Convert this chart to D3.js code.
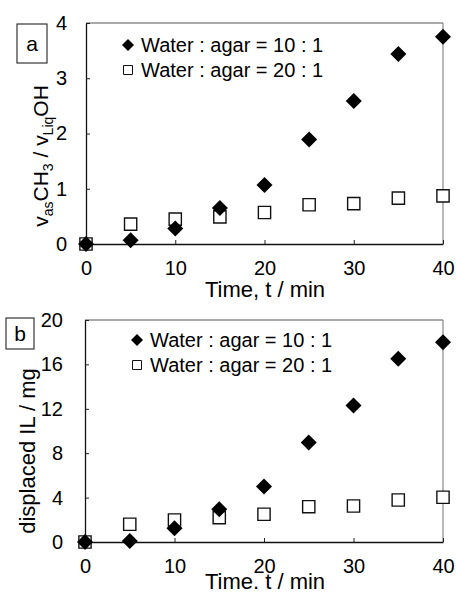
<!DOCTYPE html>
<html>
<head>
<meta charset="utf-8">
<script src="https://cdn.jsdelivr.net/npm/d3@7"></script>
<style>
  body { margin: 0; background: #fff; }
  svg text { font-family: "Liberation Sans", Arial, sans-serif; fill: #000; }
</style>
</head>
<body>
<div id="chart"></div>
<script>
// time points (min)
const times = [0, 5, 10, 15, 20, 25, 30, 35, 40];

// panel a: vasCH3 / vLiqOH
const ratio10 = [0, 0.07, 0.28, 0.65, 1.07, 1.89, 2.59, 3.44, 3.75];
const ratio20 = [0, 0.36, 0.45, 0.49, 0.57, 0.71, 0.73, 0.83, 0.87];

// panel b: displaced IL / mg
const il10 = [0, 0.1, 1.23, 2.95, 5.0, 8.97, 12.3, 16.5, 18.0];
const il20 = [0, 1.6, 1.98, 2.19, 2.5, 3.18, 3.24, 3.78, 4.03];

const xTicks = [0, 10, 20, 30, 40];
const yTicksA = [0, 1, 2, 3, 4];
const yTicksB = [0, 4, 8, 12, 16, 20];
const legendLabels = ["Water : agar = 10 : 1", "Water : agar = 20 : 1"];

const svg = d3.select("#chart")
    .append("svg")
    .attr("width", 456)
    .attr("height", 593);

const diamond = d3.symbol().type(d3.symbolSquare).size(128);
const square = d3.symbol().type(d3.symbolSquare).size(150);

function drawPanel(opts) {

    const x = d3.scaleLinear().domain([0, 40]).range([opts.left, 443]);
    const y = d3.scaleLinear().domain(opts.yDomain).range([opts.bottom, opts.top]);

    const g = svg.append("g");

    // frame (top / right lighter like the scan)
    g.append("line")
        .attr("x1", x(0)).attr("x2", x(40))
        .attr("y1", y.range()[1]).attr("y2", y.range()[1])
        .attr("stroke", "#555").attr("stroke-width", 1.2);
    g.append("line")
        .attr("x1", x(40)).attr("x2", x(40))
        .attr("y1", y.range()[1]).attr("y2", y.range()[0])
        .attr("stroke", "#888").attr("stroke-width", 1.2);

    const xAxis = d3.axisBottom(x).tickValues(xTicks).tickSizeInner(-4).tickSizeOuter(0)
        .tickFormat(d3.format("d"));
    const yAxis = d3.axisLeft(y).tickValues(opts.yTicks).tickSizeInner(-4).tickSizeOuter(0)
        .tickPadding(opts.yPad).tickFormat(d3.format("d"));

    const gx = g.append("g")
        .attr("transform", `translate(0, ${opts.bottom})`)
        .call(xAxis);
    gx.selectAll("text").attr("font-size", 20).attr("dy", "0.71em").attr("y", 17);

    const gy = g.append("g")
        .attr("transform", `translate(${opts.left}, 0)`)
        .call(yAxis);
    gy.selectAll("text").attr("font-size", 20);

    g.selectAll(".domain").attr("stroke", "#111").attr("stroke-width", 1.3);
    g.selectAll(".tick line").attr("stroke", "#222");

    // series: squares under diamonds
    g.selectAll(".sq")
        .data(times.map((t, i) => [t, opts.s20[i]]))
        .enter()
        .append("path")
        .attr("class", "sq")
        .attr("d", square)
        .attr("transform", d => `translate(${x(d[0])}, ${y(d[1])})`)
        .attr("fill", "#fff")
        .attr("stroke", "#111")
        .attr("stroke-width", 1.4);

    g.selectAll(".dm")
        .data(times.map((t, i) => [t, opts.s10[i]]))
        .enter()
        .append("path")
        .attr("class", "dm")
        .attr("d", diamond)
        .attr("transform", d => `translate(${x(d[0])}, ${y(d[1])}) rotate(45)`)
        .attr("fill", "#000");

    // legend
    const lg = g.append("g");
    lg.append("path")
        .attr("d", d3.symbol().type(d3.symbolSquare).size(72))
        .attr("transform", `translate(${opts.legX}, ${opts.legY}) rotate(45)`)
        .attr("fill", "#000");
    lg.append("path")
        .attr("d", d3.symbol().type(d3.symbolSquare).size(81))
        .attr("transform", `translate(${opts.legX}, ${opts.legY + 25})`)
        .attr("fill", "#fff")
        .attr("stroke", "#111")
        .attr("stroke-width", 1);
    lg.selectAll(".lt")
        .data(legendLabels)
        .enter()
        .append("text")
        .attr("x", opts.legX + 13)
        .attr("y", (d, i) => opts.legY + 7 + i * 25)
        .attr("font-size", 20)
        .text(d => d);

    // panel letter box
    g.append("rect")
        .attr("x", opts.box[0]).attr("y", opts.box[1])
        .attr("width", opts.box[2]).attr("height", opts.box[3])
        .attr("fill", "#fff").attr("stroke", "#222").attr("stroke-width", 1.1);
    g.append("text")
        .attr("x", opts.box[0] + opts.box[2] / 2)
        .attr("y", opts.box[1] + opts.box[3] / 2 + 7)
        .attr("text-anchor", "middle")
        .attr("font-size", 21)
        .text(opts.letter);

    // x title
    g.append("text")
        .attr("x", 265)
        .attr("y", opts.xTitleY)
        .attr("text-anchor", "middle")
        .attr("font-size", 22)
        .text(opts.xTitle);

    return g;
}

const ga = drawPanel({
    left: 86, top: 23, bottom: 244,
    yDomain: [0, 4], yTicks: yTicksA, yPad: 19,
    s10: ratio10, s20: ratio20,
    legX: 128, legY: 45,
    box: [17, 24, 30, 39], letter: "a",
    xTitle: "Time, t / min", xTitleY: 297
});

// y title a with subscripts
const ta = ga.append("text")
    .attr("transform", "translate(48, 156) rotate(-90)")
    .attr("text-anchor", "middle")
    .attr("font-size", 21);
ta.append("tspan").text("v");
ta.append("tspan").attr("font-size", 14).attr("dy", 5).text("as");
ta.append("tspan").attr("dy", -5).text("CH");
ta.append("tspan").attr("font-size", 14).attr("dy", 5).text("3");
ta.append("tspan").attr("dy", -5).text("  /  v");
ta.append("tspan").attr("font-size", 14).attr("dy", 5).text("Liq");
ta.append("tspan").attr("dy", -5).text("OH");

const gb = drawPanel({
    left: 85, top: 320, bottom: 542,
    yDomain: [0, 20], yTicks: yTicksB, yPad: 22,
    s10: il10, s20: il20,
    legX: 137, legY: 340,
    box: [6, 318, 28, 31], letter: "b",
    xTitle: "Time. t / min", xTitleY: 589
});

gb.append("text")
    .attr("transform", "translate(35, 451) rotate(-90)")
    .attr("text-anchor", "middle")
    .attr("font-size", 22)
    .text("displaced IL / mg");
</script>
</body>
</html>
